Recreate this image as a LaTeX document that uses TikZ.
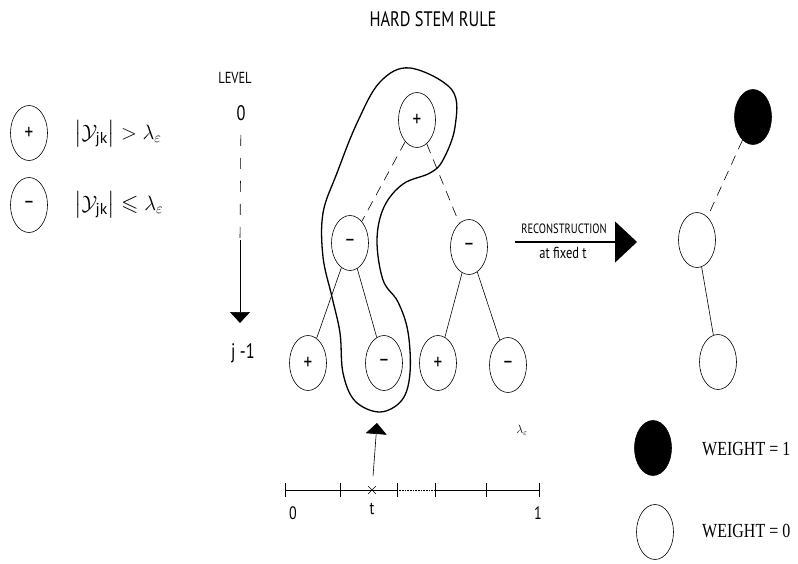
\documentclass[tikz,border=0pt]{standalone}
\usepackage{amssymb}
\usepackage{fontspec}
\setmainfont{PT Sans}
\newfontfamily\condsf[FakeStretch=0.78]{PT Sans}
\newfontfamily\condrm[FakeStretch=0.8]{Liberation Serif}
\usetikzlibrary{shapes.geometric,arrows.meta}

\tikzset{
  knot/.style={draw, ellipse, minimum width=37pt, minimum height=55pt, inner sep=0pt,
    line width=0.6pt, fill=white, font=\condsf\fontsize{22}{22}\selectfont},
  blackknot/.style={knot, fill=black},
  twig/.style={line width=0.6pt},
  dashtwig/.style={line width=0.6pt, dash pattern=on 10pt off 7pt},
  lbl/.style={font=\condsf\fontsize{#1}{#1}\selectfont, inner sep=0pt}
}

\begin{document}
\begin{tikzpicture}[x=1pt, y=-1pt]

  \newcommand\Ya{120}
  \newcommand\Yb{243}
  \newcommand\Yc{363}

  \useasboundingbox (0,0) rectangle (798,564);

  \node[lbl=21] (title) at (433,19) {HARD STEM RULE};

  %% legend
  \node[knot] (lp) at (29,133) {+};
  \node[knot] (lm) at (29,205) {–};
  \node[inner sep=0pt, anchor=west, font=\fontsize{22.5}{22.5}\selectfont] (lpt) at (74,134)
    {$\left|\mathcal{Y}_{\mathrm{jk}}\right| > \lambda_{\varepsilon}$};
  \node[inner sep=0pt, anchor=west, font=\fontsize{22.5}{22.5}\selectfont] (lmt) at (74,205)
    {$\left|\mathcal{Y}_{\mathrm{jk}}\right| \leqslant \lambda_{\varepsilon}$};

  %% level
  \node[lbl=16] (level) at (235,78) {LEVEL};
  \node[lbl=21] (l0) at (241,113) {0};
  \node[lbl=21] (lj) at (243,353) {j -1};
  \coordinate (lmid) at (240,240);
  \coordinate (ltip) at (240,323);
  \draw[line width=0.6pt, dash pattern=on 11pt off 12pt, shorten <=14pt] (l0) -- (lmid);
  \draw[line width=0.6pt, -{Triangle[length=11pt,width=20pt]}] (lmid) -- (ltip);

  %% tree
  \node[knot] (r) at (417,\Ya) {+};
  \node[knot] (a) at (350,\Yb) {–};
  \node[knot] (b) at (469,\Yb+4) {–};
  \node[knot] (aa) at (308,\Yc) {+};
  \node[knot] (ab) at (384,\Yc) {–};
  \node[knot] (ba) at (438,\Yc) {+};
  \node[knot] (bb) at (508,\Yc+2) {–};

  \draw[dashtwig] (r) -- (a);
  \draw[dashtwig] (r) -- (b);
  \draw[twig] (a) -- (aa);
  \draw[twig] (a) -- (ab);
  \draw[twig] (b) -- (ba);
  \draw[twig] (b) -- (bb);

  \draw[line width=1.3pt] plot[smooth cycle, tension=0.6] coordinates {
    (410,68) (452,90) (455,127) (443,160) (430,173) (403,184) (384,207)
    (377,240) (383,280) (398,302) (408,332) (410,373) (402,400) (380,412)
    (355,401) (343,373) (340,333) (332,297) (323,257) (323,213) (337,173)
    (357,123) (380,82)}; %% stem

  \node[lbl=12] (lam) at (522,430) {$\lambda_{\varepsilon}$};

  %% time axis
  \coordinate (ax0) at (285,490);
  \coordinate (axa) at (397,490);
  \coordinate (axb) at (435,490);
  \coordinate (ax1) at (539,490);
  \coordinate (tx) at (372,490);
  \coordinate (ttip) at (377,423);
  \draw[twig] (ax0) -- (axa);
  \draw[twig, densely dotted] (axa) -- (axb);
  \draw[twig] (axb) -- (ax1);
  \foreach \x in {285,340,397,435,486,539}
    \draw[twig] (\x,483) -- (\x,497);
  \draw[twig] (368,486) -- (376,494) (368,494) -- (376,486);
  \draw[twig, shorten <=14pt, -{Triangle[length=11pt,width=21pt]}] (tx) -- (ttip);
  \node[lbl=18] (t0) at (293,513) {0};
  \node[lbl=18] (tt) at (372,509) {t};
  \node[lbl=18] (t1) at (538,513) {1};

  %% reconstruction
  \coordinate (rs) at (515,242);
  \coordinate (re) at (637,242);
  \draw[line width=1.1pt, -{Triangle[length=22pt,width=41pt]}] (rs) -- (re);
  \node[lbl=13.5] (rec) at (564,229) {RECONSTRUCTION};
  \node[lbl=16] (fix) at (563,253) {at fixed t};

  \node[blackknot] (w) at (753,117) {};
  \node[knot] (u) at (697,240) {};
  \node[knot] (v) at (718,362) {};
  \draw[dashtwig] (w) -- (u);
  \draw[twig] (u) -- (v);

  %% weights
  \node[blackknot] (k1) at (653,448) {};
  \node[knot] (k0) at (655,532) {};
  \node[anchor=west, inner sep=0pt, font=\condrm\fontsize{20}{20}\selectfont] (k1t) at (702,449) {WEIGHT = 1};
  \node[anchor=west, inner sep=0pt, font=\condrm\fontsize{20}{20}\selectfont] (k0t) at (702,531) {WEIGHT = 0};
\end{tikzpicture}
\end{document}
